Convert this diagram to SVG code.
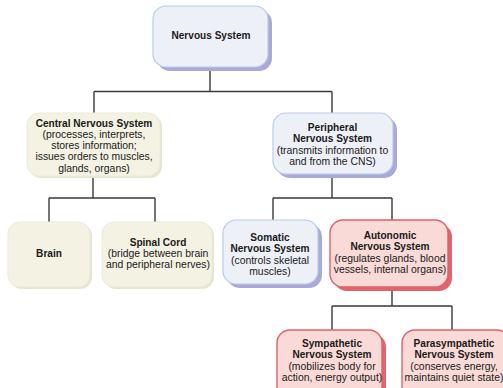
<svg xmlns="http://www.w3.org/2000/svg" width="503" height="388" viewBox="0 0 503 388">
<style>
.b{fill:#eef0f7;stroke:#b9cbe8;stroke-width:1.2}
.bs{fill:#a9a9d9}
.y{fill:#f3f2e3;stroke:#ecebd8;stroke-width:1}
.ys{fill:#e6e5cf}
.r{fill:#f9dad7;stroke:#e3606b;stroke-width:1.4}
.rs{fill:#e1636d}
text{font-family:"Liberation Sans",Arial,sans-serif;font-size:10.4px;fill:#1a1a1a;text-anchor:middle}
.t{font-weight:bold;font-size:10.1px}
.c{fill:none;stroke:#3a3a3a;stroke-width:1.4}
</style>
<rect width="503" height="388" fill="#ffffff"/>
<g id="connectors">
<path class="c" d="M210 71V91.5M94 91.5H332M94 91.5V113M332 91.5V113"/>
<path class="c" d="M93 178V198M49 198H155M49 198V222M155 198V222"/>
<path class="c" d="M332 177V198M273 198H392M273 198V220M392 198V220"/>
<path class="c" d="M392 291V306M332 306H452M332 306V330M452 306V330"/>
</g>
<g id="nervous-system">
<rect class="bs" x="157" y="10" width="115" height="61" rx="13"/>
<rect class="b" x="153" y="6" width="115" height="61" rx="13"/>
<text class="t" x="211" y="38.5">Nervous System</text>
</g>
<g id="cns">
<rect class="ys" x="29" y="115" width="133" height="63" rx="12"/>
<rect class="y" x="27" y="113" width="133" height="63" rx="12"/>
<text class="t" x="94" y="126.5">Central Nervous System</text>
<text x="94" y="137.8">(processes, interprets,</text>
<text x="94" y="149.1">stores information;</text>
<text x="94" y="160.4">issues orders to muscles,</text>
<text x="94" y="171.7">glands, organs)</text>
</g>
<g id="pns">
<rect class="bs" x="277" y="117" width="120" height="61" rx="13"/>
<rect class="b" x="273" y="113" width="120" height="61" rx="13"/>
<text class="t" x="332.5" y="130.5">Peripheral</text>
<text class="t" x="332.5" y="142">Nervous System</text>
<text x="332.5" y="153.5">(transmits information to</text>
<text x="332.5" y="165">and from the CNS)</text>
</g>
<g id="brain">
<rect class="ys" x="10" y="224" width="82" height="65" rx="12"/>
<rect class="y" x="8" y="222" width="82" height="65" rx="12"/>
<text class="t" x="49" y="256.5">Brain</text>
</g>
<g id="spinal-cord">
<rect class="ys" x="104" y="224" width="110" height="65" rx="12"/>
<rect class="y" x="102" y="222" width="110" height="65" rx="12"/>
<text class="t" x="158" y="245.5">Spinal Cord</text>
<text x="158" y="256.8">(bridge between brain</text>
<text x="158" y="268.1">and peripheral nerves)</text>
</g>
<g id="somatic">
<rect class="bs" x="227" y="224" width="95" height="64" rx="13"/>
<rect class="b" x="223" y="220" width="95" height="64" rx="13"/>
<text class="t" x="270" y="240.5">Somatic</text>
<text class="t" x="270" y="252">Nervous System</text>
<text x="270" y="263.5">(controls skeletal</text>
<text x="270" y="275">muscles)</text>
</g>
<g id="autonomic">
<rect class="rs" x="334" y="224" width="118" height="67" rx="13"/>
<rect class="r" x="330" y="220" width="118" height="67" rx="13"/>
<text class="t" x="390" y="238.5">Autonomic</text>
<text class="t" x="390" y="250">Nervous System</text>
<text x="390" y="261.5">(regulates glands, blood</text>
<text x="390" y="273">vessels, internal organs)</text>
</g>
<g id="sympathetic">
<rect class="rs" x="281" y="334" width="105" height="70" rx="13"/>
<rect class="r" x="277" y="330" width="105" height="70" rx="13"/>
<text class="t" x="332" y="346.5">Sympathetic</text>
<text class="t" x="332" y="358">Nervous System</text>
<text x="332" y="369.5">(mobilizes body for</text>
<text x="332" y="381">action, energy output)</text>
</g>
<g id="parasympathetic">
<rect class="rs" x="406" y="334" width="108" height="70" rx="13"/>
<rect class="r" x="402" y="330" width="108" height="70" rx="13"/>
<text class="t" x="454" y="346.5">Parasympathetic</text>
<text class="t" x="454" y="358">Nervous System</text>
<text x="454" y="369.5">(conserves energy,</text>
<text x="454" y="381">maintains quiet state)</text>
</g>
</svg>
